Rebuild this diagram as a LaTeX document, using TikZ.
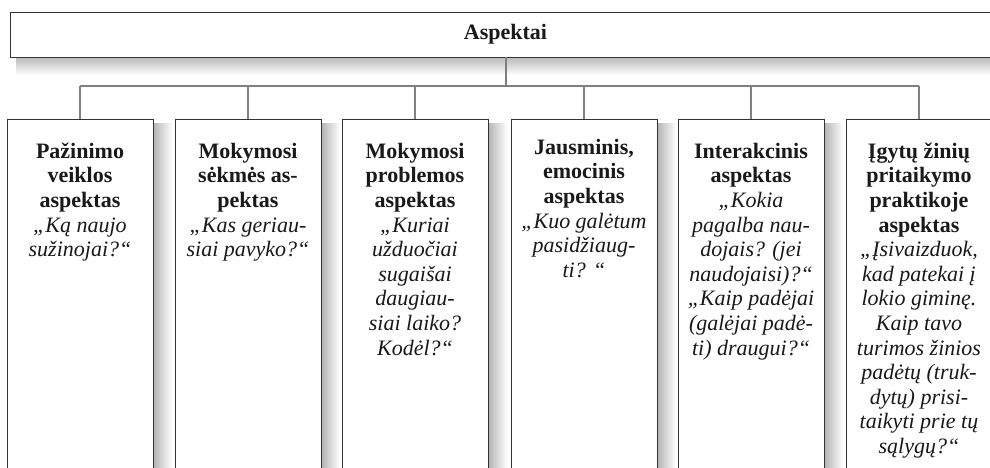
\documentclass[tikz,border=0pt]{standalone}
\usepackage{fontspec}
\setmainfont{Liberation Serif}
\newcommand{\topstrut}{\rule{0pt}{17pt}}
\begin{document}
\begin{tikzpicture}[x=1pt,y=-1pt,
  frame/.style={draw=black!80, line width=0.9pt, fill=white, inner sep=0pt},
  conn/.style={draw=black!50, line width=1.1pt},
  txt/.style={align=center, inner sep=0pt, anchor=north, text=black!90, font=\fontsize{22}{24.6}\selectfont},
  shadowv/.style={left color=black!30, right color=white},
  shadowh/.style={top color=black!28, bottom color=white}]
\useasboundingbox (0,0) rectangle (990,468);
\clip (0,0) rectangle (990,468);
% shadows
\shade[shadowh] (16,57) rectangle (995,75);
\foreach \xr in {153,321,488,657,824}{
  \shade[shadowv] (\xr,124) rectangle (\xr+19,470);
}
% top box
\node[frame, minimum width=990pt, minimum height=45pt, text=black!90] (top) at (505.5,34.5)
  {\fontsize{22}{24.6}\selectfont\bfseries Aspektai};
% boxes
\node[frame, minimum width=146pt, minimum height=370pt, anchor=north] (b1) at (80,119) {};
\node[frame, minimum width=146pt, minimum height=370pt, anchor=north] (b2) at (248,119) {};
\node[frame, minimum width=146pt, minimum height=370pt, anchor=north] (b3) at (415,119) {};
\node[frame, minimum width=146pt, minimum height=370pt, anchor=north] (b4) at (584,119) {};
\node[frame, minimum width=146pt, minimum height=370pt, anchor=north] (b5) at (751,119) {};
\node[frame, minimum width=146pt, minimum height=370pt, anchor=north] (b6) at (919,119) {};
% connectors
\coordinate (hub) at (506,86);
\draw[conn] (top.south -| hub) -- (hub);
\draw[conn] (b1.north |- hub) -- (b6.north |- hub);
\foreach \b in {b1,b2,b3,b4,b5,b6}{
  \draw[conn] (\b.north |- hub) -- (\b.north);
}
% texts (first baseline = y + 17)
\node[txt] (t1) at (80,141) {\topstrut\textbf{Pažinimo}\\\textbf{veiklos}\\\textbf{aspektas}\\\textit{„Ką naujo}\\\textit{sužinojai?“}};
\node[txt] (t2) at (248,141) {\topstrut\textbf{Mokymosi}\\\textbf{sėkmės as-}\\\textbf{pektas}\\\textit{„Kas geriau-}\\\textit{siai pavyko?“}};
\node[txt] (t3) at (415,141) {\topstrut\textbf{Mokymosi}\\\textbf{problemos}\\\textbf{aspektas}\\\textit{„Kuriai}\\\textit{užduočiai}\\\textit{sugaišai}\\\textit{daugiau-}\\\textit{siai laiko?}\\\textit{Kodėl?“}};
\node[txt] (t4) at (584,137) {\topstrut\textbf{Jausminis,}\\\textbf{emocinis}\\\textbf{aspektas}\\\textit{„Kuo galėtum}\\\textit{pasidžiaug-}\\\textit{ti? “}};
\node[txt] (t5) at (751,141) {\topstrut\textbf{Interakcinis}\\\textbf{aspektas}\\\textit{„Kokia}\\\textit{pagalba nau-}\\\textit{dojais? (jei}\\\textit{naudojaisi)?“}\\\textit{„Kaip padėjai}\\\textit{(galėjai padė-}\\\textit{ti) draugui?“}};
\node[txt] (t6) at (919,141) {\topstrut\textbf{Įgytų žinių}\\\textbf{pritaikymo}\\\textbf{praktikoje}\\\textbf{aspektas}\\\textit{„Įsivaizduok,}\\\textit{kad patekai į}\\\textit{lokio giminę.}\\\textit{Kaip tavo}\\\textit{turimos žinios}\\\textit{padėtų (truk-}\\\textit{dytų) prisi-}\\\textit{taikyti prie tų}\\\textit{sąlygų?“}};
\end{tikzpicture}
\end{document}
